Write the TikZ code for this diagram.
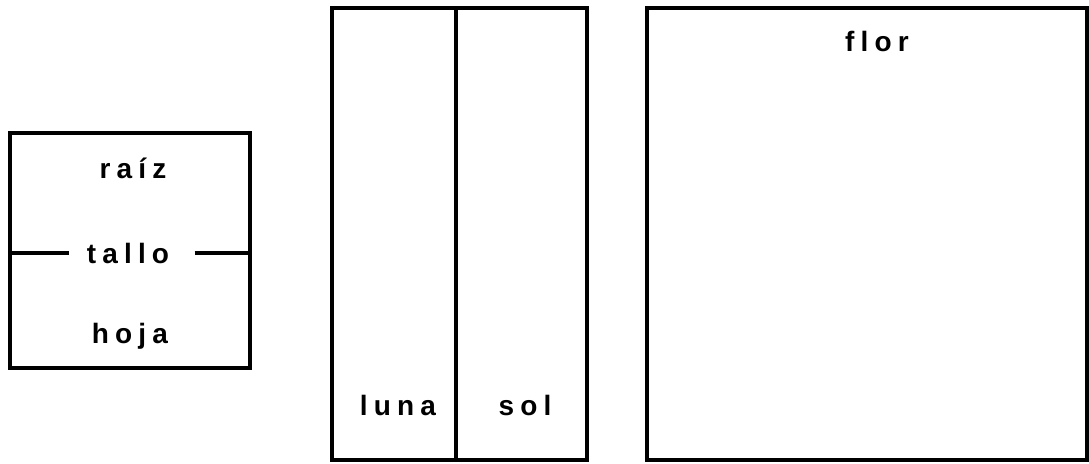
\documentclass[tikz,border=0pt]{standalone}
\usepackage{fontspec}
\setmainfont{Liberation Sans}
\newfontfamily\etiqfont[LetterSpace=22]{Liberation Sans}
\usetikzlibrary{calc}
\tikzset{
  caja/.style={
    draw,
    line width=2pt,
  },
  etiqueta/.style={
    font=\etiqfont\bfseries\fontsize{14}{16}\selectfont,
    inner sep=0pt,
    anchor=base,
  },
  every picture/.style = {
    x=0.5pt,
    y=-0.5pt
  }
}
\begin{document}
\begin{tikzpicture}
        \useasboundingbox (0,0) rectangle (1089,463);
        % caja izquierda
        \coordinate (izqA) at (10,133);
        \coordinate (izqB) at (250,368);
        \draw[caja] (izqA) rectangle (izqB);
        \node[etiqueta] (raiz) at (133,178) {raíz};
        \node[etiqueta] (tallo) at (128,263) {tallo};
        \node[etiqueta] (hoja) at (130,343) {hoja};
        \draw[caja] (izqA |- tallo.center) -- ([xshift=-9pt]tallo.west);
        \draw[caja] ([xshift=12.5pt]tallo.east) -- (izqB |- tallo.center);
        % caja del medio
        \coordinate (medA) at (332,8);
        \coordinate (medB) at (587,460);
        \draw[caja] (medA) rectangle (medB);
        \draw[caja] (456,8) -- (456,460);
        \node[etiqueta] (luna) at (398,415) {luna};
        \node[etiqueta] (sol) at (525,415) {sol};
        % caja derecha
        \draw[caja] (647,8) rectangle (1087,460);
        \node[etiqueta] (flor) at (877,51) {flor};
    \end{tikzpicture}
\end{document}
